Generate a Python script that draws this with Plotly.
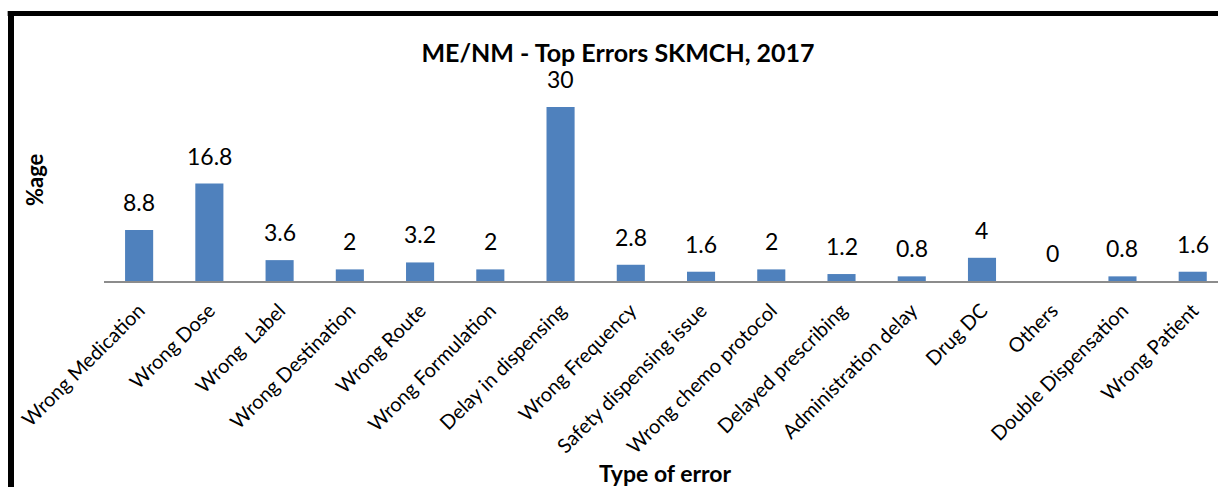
import plotly.graph_objects as go

categories = [
    "Wrong Medication", "Wrong Dose", "Wrong\u00a0 Label", "Wrong Destination",
    "Wrong Route", "Wrong Formulation", "Delay in dispensing", "Wrong Frequency",
    "Safety dispensing issue", "Wrong chemo protocol", "Delayed prescribing",
    "Administration delay", "Drug DC", "Others", "Double Dispensation", "Wrong Patient",
]
values = [8.8, 16.8, 3.6, 2, 3.2, 2, 30, 2.8, 1.6, 2, 1.2, 0.8, 4, 0, 0.8, 1.6]
value_labels = ["8.8", "16.8", "3.6", "2", "3.2", "2", "30", "2.8", "1.6", "2",
                "1.2", "0.8", "4", "0", "0.8", "1.6"]

title_text = "ME/NM - Top Errors SKMCH, 2017"
y_title = "%age"
x_title = "Type of error"

FONT = "Lato"
W, H = 1218, 487
ML, MR, MT, MB = 104, 0, 100, 206
pw = W - ML - MR
ph = H - MT - MB

fig = go.Figure()
fig.add_trace(go.Bar(
    x=list(range(len(categories))),
    y=values,
    marker=dict(color="#4F81BD", line=dict(width=0)),
    hoverinfo="skip",
))

for i, (v, lab) in enumerate(zip(values, value_labels)):
    fig.add_annotation(
        x=i, y=v, text=lab, showarrow=False, xref="x", yref="y",
        yanchor="bottom", yshift=12,
        font=dict(family=FONT, size=23, color="#000000"),
    )

# axis titles
fig.add_annotation(
    x=(34 - ML) / pw, y=(MT + ph - 180) / ph, xref="paper", yref="paper",
    text="<b>%s</b>" % y_title, textangle=-90, showarrow=False,
    xanchor="center", yanchor="middle",
    font=dict(family=FONT, size=22, color="#000000"),
)
fig.add_annotation(
    x=(665 - ML) / pw, y=(MT + ph - 473) / ph, xref="paper", yref="paper",
    text="<b>%s</b>" % x_title, showarrow=False,
    xanchor="center", yanchor="middle",
    font=dict(family=FONT, size=23, color="#000000"),
)

# outer black frame (left and top edges visible)
fx = (11 - ML) / pw
fy = 1 + (MT - 13.5) / ph
fig.add_shape(type="line", xref="paper", yref="paper", x0=fx, x1=fx, y0=fy, y1=-1.3,
              line=dict(color="#000000", width=6))
fig.add_shape(type="line", xref="paper", yref="paper", x0=fx - 0.003, x1=1.1, y0=fy, y1=fy,
              line=dict(color="#000000", width=5))

fig.update_layout(
    width=W, height=H,
    margin=dict(l=ML, r=MR, t=MT, b=MB, pad=0),
    paper_bgcolor="#FFFFFF", plot_bgcolor="#FFFFFF",
    bargap=0.6, showlegend=False,
    title=dict(text="<b>%s</b>" % title_text, x=618 / W, xref="container",
               y=1 - 53 / H, yref="container", xanchor="center", yanchor="middle",
               font=dict(family=FONT, size=25, color="#000000")),
    xaxis=dict(
        range=[-0.5, 15.36], tickmode="array",
        tickvals=list(range(len(categories))), ticktext=categories,
        tickangle=-45, tickfont=dict(family=FONT, size=20, color="#000000"),
        ticklabelstandoff=8,
        showgrid=False, zeroline=False, showline=True, linecolor="#8C8C8C",
        linewidth=2, ticks="",
    ),
    yaxis=dict(range=[0, 31.2], showticklabels=False, showgrid=False,
               zeroline=False, showline=False, ticks=""),
)

fig.write_html("out.html", config={"displayModeBar": False},
               post_script="document.body.style.margin='0';document.body.style.overflow='hidden';")
